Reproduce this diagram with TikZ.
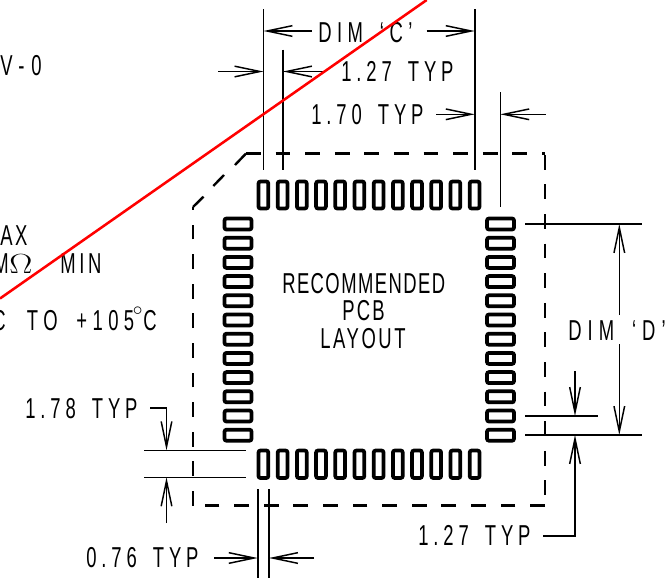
\documentclass[tikz,border=0pt]{standalone}
\usepackage{fontspec}
\setmainfont[FakeStretch=0.64,LetterSpace=13,WordSpace=1.6]{Liberation Sans}
\usetikzlibrary{arrows.meta}
\tikzset{
  thinln/.style={line width=1.2pt,black},
  dimarrow/.style={thinln,-{Straight Barb[length=19pt,width=8pt,line width=1.1pt]}},
  padbox/.style={draw=black,line width=2.8pt,rounded corners=1.5pt,fill=white},
  outline/.style={draw=black,line width=1.8pt,dash pattern=on 11.1pt off 11.1pt},
  lbl/.style={anchor=base west,inner sep=0pt,font=\fontsize{21.6}{24}\selectfont\addfontfeature{LetterSpace=#1},text=black},
  lbl/.default=17
}
\begin{document}
\begin{tikzpicture}[x=0.75pt,y=-0.75pt]
\useasboundingbox (0,0) rectangle (667,578);
\clip (0,0) rectangle (667,578);
\fill[white] (0,0) rectangle (667,578);
% pads
\foreach \i in {0,...,11}{
  \pgfmathsetmacro{\a}{258.5+19.2*\i}
  \draw[padbox] (\a,181.5) rectangle ++(9.8,27);
  \draw[padbox] (\a,450.5) rectangle ++(9.8,27.5);
  \pgfmathsetmacro{\b}{218.5+19.2*\i}
  \draw[padbox] (224.5,\b) rectangle ++(27,11);
  \draw[padbox] (487,\b) rectangle ++(27,11);
}
% outline
\draw[outline] (246,153.5) -- (545,153.5);
\draw[outline] (545,154.8) -- (545,500);
\draw[outline] (545,505.5) -- (200,505.5);
\draw[outline] (193,505.7) -- (193,207);
\draw[draw=black,line width=1.8pt] (193,207) -- (203.5,196.7) (213.3,186) -- (224,175) (235,165) -- (246,153.5);
% extension lines
\draw[thinln] (263.5,9) -- (263.5,170);
\draw[thinln] (283,49.5) -- (283,170);
\draw[thinln] (474.7,9) -- (474.7,170);
\draw[thinln] (500.3,92) -- (500.3,207);
\draw[thinln] (525,224) -- (641.7,224);
\draw[thinln] (525,416) -- (597.7,416);
\draw[thinln] (525,435) -- (641.7,435);
\draw[thinln] (144,450.3) -- (246,450.3);
\draw[thinln] (144,477.3) -- (246,477.3);
\draw[thinln] (257.7,489) -- (257.7,578);
\draw[thinln] (269,489) -- (269,578);
% dimension arrows
\draw[dimarrow] (311.5,31) -- (263.5,31);
\draw[dimarrow] (426.7,31) -- (474.7,31);
\draw[dimarrow] (218,71.5) -- (263.5,71.5);
\draw[dimarrow] (326,71.5) -- (283,71.5);
\draw[dimarrow] (436,114.3) -- (474.7,114.3);
\draw[dimarrow] (545.7,114.3) -- (500.3,114.3);
\draw[dimarrow] (619.3,315) -- (619.3,224);
\draw[dimarrow] (619.3,344) -- (619.3,435);
\draw[dimarrow] (575,371) -- (575,416);
\draw[dimarrow] (543.3,536) -- (575,536) -- (575,435);
\draw[dimarrow] (150,408) -- (166.5,408) -- (166.5,450.3);
\draw[dimarrow] (166.5,523) -- (166.5,477.3);
\draw[dimarrow] (214,558) -- (257.7,558);
\draw[dimarrow] (314,558) -- (269,558);
% texts
\node[lbl=24] (t1) at (0,75) {V-0};
\node[lbl=19] (t2) at (318,42) {DIM ‘C’};
\node[lbl] (t3) at (341,81) {1.27 TYP};
\node[lbl] (t4) at (311,124) {1.70 TYP};
\node[lbl=9] (t5) at (0,245) {AX};
\node[lbl=0] (t6a) at (-7,273) {M\kern0.5pt\scalebox{1.25}[1]{$\Omega$}};
\node[lbl=13] (t6b) at (60,273) {MIN};
\node[lbl=19] (t7) at (-8,330.5) {C\hspace{16pt}TO\hspace{14pt}+105\kern-1pt\raisebox{11pt}{\scalebox{0.7}{$\circ$}}\kern0.5pt C};
\node[lbl=5] (t8) at (282,293) {RECOMMENDED};
\node[lbl=8] (t9) at (342,320) {PCB};
\node[lbl=9] (t10) at (320,348.5) {LAYOUT};
\node[lbl=21] (t11) at (568,340) {DIM ‘D’};
\node[lbl] (t12) at (25,418) {1.78 TYP};
\node[lbl] (t13) at (86,567) {0.76 TYP};
\node[lbl] (t14) at (418,545) {1.27 TYP};
% red line
\draw[red,line width=1.9pt] (0,298.5) -- (426.7,0);
\end{tikzpicture}
\end{document}
